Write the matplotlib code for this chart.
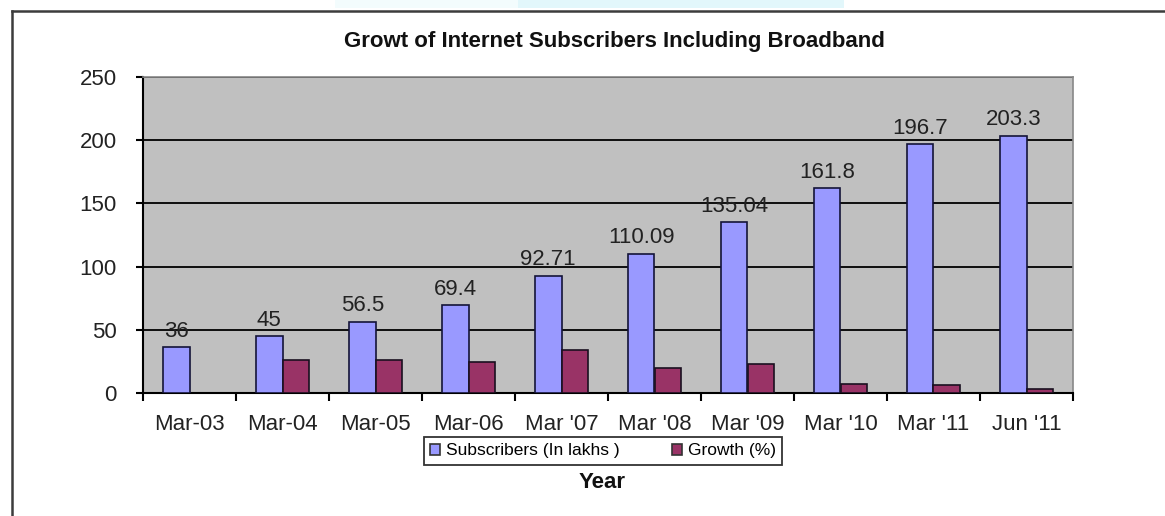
import numpy as np
import matplotlib.pyplot as plt
from matplotlib.lines import Line2D
from matplotlib.patches import Rectangle

plt.rcParams['font.family'] = ['Liberation Sans', 'DejaVu Sans']

periods = ["Mar-03", "Mar-04", "Mar-05", "Mar-06", "Mar '07", "Mar '08",
           "Mar '09", "Mar '10", "Mar '11", "Jun '11"]
subscribers = [36, 45, 56.5, 69.4, 92.71, 110.09, 135.04, 161.8, 196.7, 203.3]
sub_labels = ["36", "45", "56.5", "69.4", "92.71", "110.09", "135.04",
              "161.8", "196.7", "203.3"]
growth = [np.nan, 25.8, 25.8, 24.2, 34.2, 20.0, 22.6, 7.4, 6.0, 3.2]
y_ticks = [0, 50, 100, 150, 200, 250]

fig = plt.figure(figsize=(11.65, 5.16), dpi=100)
fig.patch.set_facecolor('white')

# plot area in pixel terms: x 143..1073, y 77..393
W, H = 1165, 516
ax = fig.add_axes([143 / W, 1 - 393 / H, (1073 - 143) / W, (393 - 77) / H])
ax.set_facecolor('#c0c0c0')

x = np.arange(len(periods))
bw = 1 / 3.5
ax.bar(x - bw / 2, subscribers, bw, color='#9999ff', edgecolor='#141438',
       linewidth=1.2, label='Subscribers (In lakhs )', zorder=3)
ax.bar(x + bw / 2, growth, bw, color='#993366', edgecolor='#1a1020',
       linewidth=1.2, label='Growth (%)', zorder=3)

for xi, v, s in zip(x, subscribers, sub_labels):
    ax.annotate(s, (xi - bw / 2, v), xytext=(0, 4), textcoords='offset points',
                ha='center', va='bottom', fontsize=16, color='#222222', zorder=4)

ax.set_xlim(-0.5, len(periods) - 0.5)
ax.set_ylim(0, 250)
ax.set_yticks(y_ticks)
ax.set_yticklabels([str(t) for t in y_ticks], fontsize=16, color='#222222')
ax.set_xticks(x)
ax.set_xticklabels(periods, fontsize=16, color='#222222')
ax.set_xticks(np.arange(len(periods) + 1) - 0.5, minor=True)
ax.tick_params(axis='x', which='major', length=0, pad=15)
ax.tick_params(axis='x', which='minor', length=6, width=1.5, color='black')
ax.tick_params(axis='y', length=5, width=1.5, color='black', pad=14)

ax.set_axisbelow(True)
ax.yaxis.grid(True, color='black', linewidth=1.3)
for side in ('left', 'bottom'):
    ax.spines[side].set_color('black')
    ax.spines[side].set_linewidth(1.5)
for side in ('top', 'right'):
    ax.spines[side].set_color('#888888')
    ax.spines[side].set_linewidth(1.2)

fig.text(614 / W, 1 - 41 / H, 'Growt of Internet Subscribers Including Broadband',
         ha='center', va='center', fontsize=16, fontweight='bold', color='#111111')
fig.text(602 / W, 1 - 482 / H, 'Year', ha='center', va='center', fontsize=16,
         fontweight='bold', color='#111111')

leg = fig.legend(loc='center', bbox_to_anchor=(603 / W, 1 - 451 / H), ncol=2,
                 fontsize=12.5, frameon=True, fancybox=False, edgecolor='black',
                 handlelength=0.6, handleheight=0.6, handletextpad=0.35,
                 columnspacing=3.0, borderpad=0.35, borderaxespad=0)
leg.get_frame().set_linewidth(1.3)
for h in leg.legend_handles:
    h.set_edgecolor('#333333')

# outer chart border (top and left edges only inside the image)
fig.add_artist(Line2D([12 / W, 12 / W], [0, 1 - 11 / H], color='#3c3c3c', lw=1.8))
fig.add_artist(Line2D([12 / W, 1], [1 - 11 / H, 1 - 11 / H], color='#3c3c3c', lw=1.8))
# faint cyan strip along the top edge
fig.add_artist(Rectangle((335 / W, 1 - 8 / H), 185 / W, 8 / H,
                         transform=fig.transFigure, color='#f3fcfd', lw=0))
fig.add_artist(Rectangle((518 / W, 1 - 8 / H), 326 / W, 8 / H,
                         transform=fig.transFigure, color='#e2f7fb', lw=0))

fig.savefig('out.png', dpi=100)
